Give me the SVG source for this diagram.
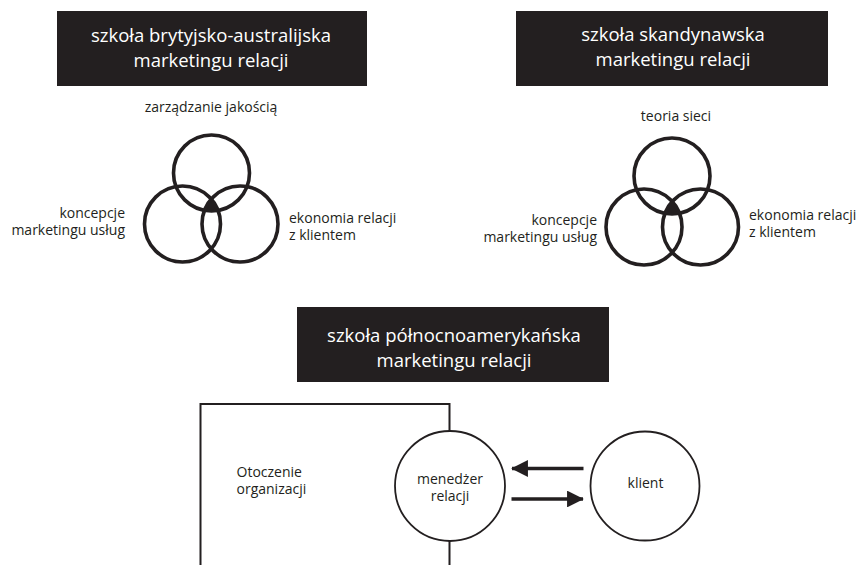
<svg xmlns="http://www.w3.org/2000/svg" width="859" height="565" viewBox="0 0 859 565">
<style>
.bg{fill:#ffffff}
.hbox{fill:#231f20}
.htxt{font-family:"Open Sans","Liberation Sans",sans-serif;font-size:18.5px;fill:#ffffff;text-anchor:middle}
.lbl{font-family:"Open Sans","Liberation Sans",sans-serif;font-size:14px;fill:#231f20}
.ven{fill:none;stroke:#231f20;stroke-width:3.6}
.thin{fill:#ffffff;stroke:#231f20;stroke-width:1.8}
.frame{fill:none;stroke:#231f20;stroke-width:2}
.arr{fill:none;stroke:#231f20;stroke-width:3.5}
.mid{text-anchor:middle}
.end{text-anchor:end}
</style>
<defs>
<marker id="ah" viewBox="0 0 10 10" refX="9.5" refY="5" markerWidth="6.2" markerHeight="4.8" markerUnits="strokeWidth" orient="auto">
<path d="M0,0 L10,5 L0,10 Z" fill="#231f20"/>
</marker>
<clipPath id="c1L"><circle cx="182.5" cy="224" r="38"/></clipPath>
<clipPath id="c1R"><circle cx="240" cy="224" r="38"/></clipPath>
<clipPath id="c2L"><circle cx="644" cy="227" r="38"/></clipPath>
<clipPath id="c2R"><circle cx="700.5" cy="227" r="38"/></clipPath>
</defs>
<rect class="bg" x="0" y="0" width="859" height="565"/>

<g id="head1">
<rect class="hbox" x="57" y="11" width="310" height="75"/>
<text class="htxt" x="211" y="41.5">szkoła brytyjsko-australijska</text>
<text class="htxt" x="211" y="66.5">marketingu relacji</text>
</g>

<g id="venn1">
<text class="lbl mid" x="211" y="112">zarządzanie jakością</text>
<g clip-path="url(#c1L)"><circle cx="211.5" cy="173" r="38" fill="#231f20" clip-path="url(#c1R)"/></g>
<circle class="ven" cx="211.5" cy="173" r="38"/>
<circle class="ven" cx="182.5" cy="224" r="38"/>
<circle class="ven" cx="240" cy="224" r="38"/>
<text class="lbl end" x="125" y="218">koncepcje</text>
<text class="lbl end" x="125" y="235">marketingu usług</text>
<text class="lbl" x="289" y="223">ekonomia relacji</text>
<text class="lbl" x="289" y="240">z klientem</text>
</g>

<g id="head2">
<rect class="hbox" x="516" y="11" width="312" height="75"/>
<text class="htxt" x="673" y="41">szkoła skandynawska</text>
<text class="htxt" x="673" y="65.5">marketingu relacji</text>
</g>

<g id="venn2">
<text class="lbl mid" x="676" y="121">teoria sieci</text>
<g clip-path="url(#c2L)"><circle cx="672" cy="176" r="38" fill="#231f20" clip-path="url(#c2R)"/></g>
<circle class="ven" cx="672" cy="176" r="38"/>
<circle class="ven" cx="644" cy="227" r="38"/>
<circle class="ven" cx="700.5" cy="227" r="38"/>
<text class="lbl end" x="597" y="225">koncepcje</text>
<text class="lbl end" x="597" y="242">marketingu usług</text>
<text class="lbl" x="749" y="220">ekonomia relacji</text>
<text class="lbl" x="749" y="237">z klientem</text>
</g>

<g id="head3">
<rect class="hbox" x="297" y="307" width="312" height="75"/>
<text class="htxt" x="454" y="341.5">szkoła północnoamerykańska</text>
<text class="htxt" x="454" y="366.5">marketingu relacji</text>
</g>

<g id="organizacja">
<path class="frame" d="M200.5,566 V404 H449.5 V566"/>
<text class="lbl" x="236.5" y="477">Otoczenie</text>
<text class="lbl" x="236.5" y="494">organizacji</text>
</g>

<g id="menedzer">
<circle class="thin" cx="450" cy="486" r="55"/>
<text class="lbl mid" x="450" y="484">menedżer</text>
<text class="lbl mid" x="450" y="501">relacji</text>
</g>

<g id="klient">
<circle class="thin" cx="645" cy="486" r="54.5"/>
<text class="lbl mid" x="645.5" y="488">klient</text>
</g>

<g id="connectors">
<line class="arr" x1="583.5" y1="468.5" x2="512" y2="468.5" marker-end="url(#ah)"/>
<line class="arr" x1="511.5" y1="499" x2="583" y2="499" marker-end="url(#ah)"/>
</g>
</svg>
